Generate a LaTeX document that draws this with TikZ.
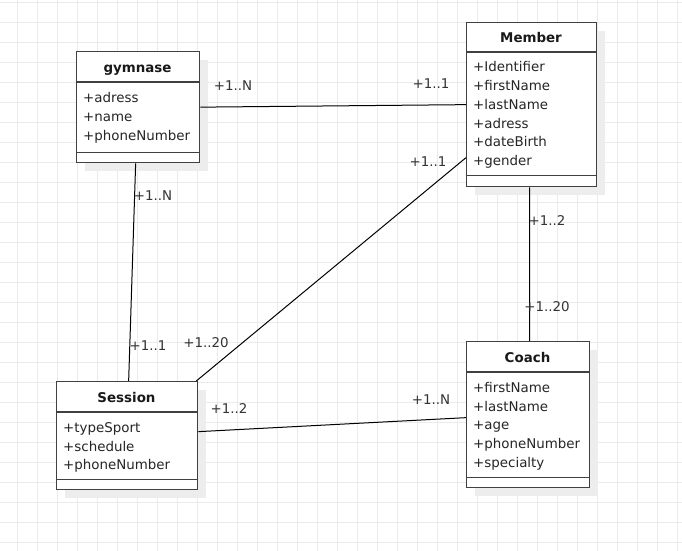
\documentclass[tikz,border=0pt]{standalone}
\usepackage{fontspec}
\setmainfont{DejaVu Sans}
\usetikzlibrary{shadows}
\newcommand\dfont{\fontsize{13.4bp}{16bp}\selectfont}
\tikzset{
  gridline/.style={draw=black!8, line width=0.8bp},
  classbox/.style={draw=black!75, line width=1.3bp, fill=white, inner sep=0pt, anchor=north west,
    drop shadow={shadow xshift=8bp, shadow yshift=-8bp, fill=black!7, opacity=1}},
  sepline/.style={draw=black!75, line width=1.3bp},
  ctitle/.style={font=\dfont\bfseries, text=black!90, anchor=base, inner sep=0pt},
  attr/.style={font=\dfont, text=black!85, anchor=base west, inner sep=0pt},
  mult/.style={font=\dfont, text=black!80, anchor=center, inner sep=0pt},
  assoc/.style={draw=black, line width=1bp}
}
\begin{document}
\begin{tikzpicture}[x=1bp, y=-1bp]
\useasboundingbox (0,0) rectangle (682,551);
\fill[white] (0,0) rectangle (682,551);
% grid
\foreach \gx in {17,37,...,677} \draw[gridline] (\gx,0) -- (\gx,551);
\foreach \gy in {2,22,...,542} \draw[gridline] (0,\gy) -- (682,\gy);

% classes
\node[classbox, minimum width=123bp, minimum height=111bp] (gym) at (76,51) {};
\node[classbox, minimum width=130bp, minimum height=164bp] (member) at (466,22) {};
\node[classbox, minimum width=141bp, minimum height=108bp] (session) at (56,381) {};
\node[classbox, minimum width=123bp, minimum height=146bp] (coach) at (466,341) {};

% separators
\draw[sepline] ([yshift=-31bp]gym.north west) -- ([yshift=-31bp]gym.north east);
\draw[sepline] ([yshift=11bp]gym.south west) -- ([yshift=11bp]gym.south east);
\draw[sepline] ([yshift=-30bp]member.north west) -- ([yshift=-30bp]member.north east);
\draw[sepline] ([yshift=12bp]member.south west) -- ([yshift=12bp]member.south east);
\draw[sepline] ([yshift=-31bp]session.north west) -- ([yshift=-31bp]session.north east);
\draw[sepline] ([yshift=11bp]session.south west) -- ([yshift=11bp]session.south east);
\draw[sepline] ([yshift=-31bp]coach.north west) -- ([yshift=-31bp]coach.north east);
\draw[sepline] ([yshift=11bp]coach.south west) -- ([yshift=11bp]coach.south east);

% titles
\node[ctitle] (gymT) at (137.5,72.5) {gymnase};
\node[ctitle] (memberT) at (531,42.5) {Member};
\node[ctitle] (sessionT) at (126.5,402) {Session};
\node[ctitle] (coachT) at (527.5,362) {Coach};

% attributes
\foreach \t [count=\i from 0] in {+adress,+name,+phoneNumber}
  \node[attr] (gymA\i) at (83,{103+18.7*\i}) {\t};
\foreach \t [count=\i from 0] in {+Identifier,+firstName,+lastName,+adress,+dateBirth,+gender}
  \node[attr] (memberA\i) at (473,{72+18.7*\i}) {\t};
\foreach \t [count=\i from 0] in {+typeSport,+schedule,+phoneNumber}
  \node[attr] (sessionA\i) at (63,{432.5+18.7*\i}) {\t};
\foreach \t [count=\i from 0] in {+firstName,+lastName,+age,+phoneNumber,+specialty}
  \node[attr] (coachA\i) at (473,{392.5+18.7*\i}) {\t};

% associations
\draw[assoc] (gym.east) -- (member.west);
\draw[assoc] ([xshift=-2.5bp]gym.south) -- ([xshift=1.5bp]session.north);
\draw[assoc] ([yshift=-53bp]member.west) -- ([xshift=-2bp]session.north east);
\draw[assoc] ([xshift=-2bp]member.south) -- ([xshift=1.5bp]coach.north);
\draw[assoc] ([yshift=4bp]session.east) -- ([yshift=-3bp]coach.west);

% multiplicities
\node[mult] (m1) at (233,86) {+1..N};
\node[mult] (m2) at (431,84) {+1..1};
\node[mult] (m3) at (428,162) {+1..1};
\node[mult] (m4) at (153,196) {+1..N};
\node[mult] (m5) at (148,346) {+1..1};
\node[mult] (m6) at (206,343) {+1..20};
\node[mult] (m7) at (547,221) {+1..2};
\node[mult] (m8) at (547,307) {+1..20};
\node[mult] (m9) at (229,409) {+1..2};
\node[mult] (m10) at (431,400) {+1..N};
\end{tikzpicture}
\end{document}
